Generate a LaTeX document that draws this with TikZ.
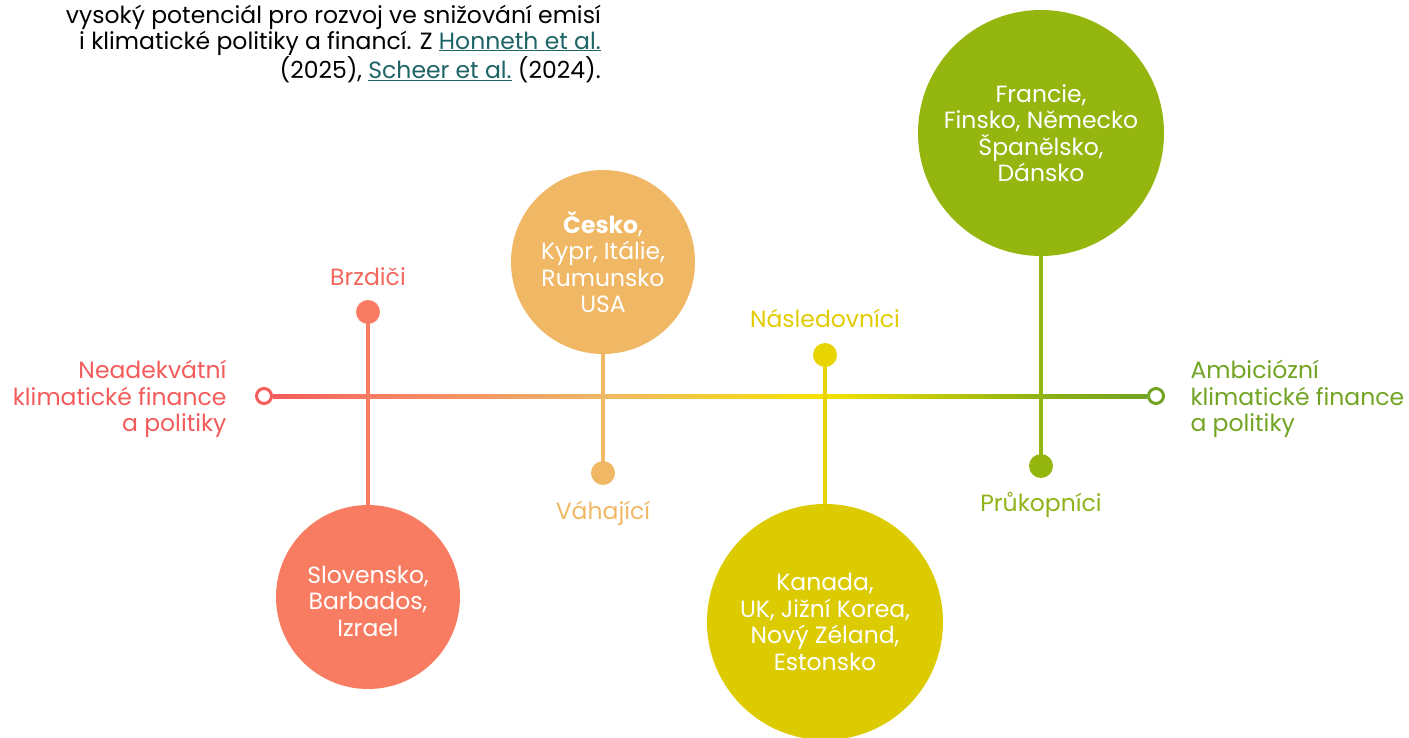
\documentclass[tikz,border=0pt]{standalone}
\usepackage{fontspec}
\setmainfont{Poppins}
\usetikzlibrary{calc}
\definecolor{cRed}{HTML}{F45B5B}
\definecolor{cBrz}{HTML}{F77C62}
\definecolor{cBrzL}{HTML}{F4675C}
\definecolor{cVah}{HTML}{F0B865}
\definecolor{cNas}{HTML}{DCCB00}
\definecolor{cNasD}{HTML}{E8D400}
\definecolor{cNasL}{HTML}{E2CB00}
\definecolor{cPru}{HTML}{95B50F}
\definecolor{cPruL}{HTML}{8FB318}
\definecolor{cGreen}{HTML}{72A323}
\definecolor{cYel}{HTML}{F7E200}
\definecolor{cLink}{HTML}{1E6466}
\pgfdeclarehorizontalshading{axisgrad}{100bp}{color(0bp)=(cRed); color(25bp)=(cRed); color(30.5bp)=(cBrz); color(44bp)=(cVah); color(56.5bp)=(cYel); color(68.5bp)=(cPru!85!cGreen); color(75bp)=(cGreen); color(100bp)=(cGreen)}
\newcommand{\lnk}[1]{\textcolor{cLink}{\underline{#1}}}
\tikzset{
  txt/.style={font=\fontsize{23.5}{26.5}\selectfont},
  bigc/.style={circle, inner sep=0pt, text=white, align=center, txt},
  dotn/.style={circle, inner sep=0pt, minimum size=24pt},
  ring/.style={circle, draw, line width=3pt, fill=white, inner sep=0pt, minimum size=15pt},
  stem/.style={line width=4pt},
}
\begin{document}
\begin{tikzpicture}[x=1pt,y=-1pt]
\useasboundingbox (0,0) rectangle (1409,738);
% header text
\node[anchor=north east, align=right, inner sep=0pt, font=\fontsize{23.5}{25.5}\selectfont] (hdr) at (601,5)
 {vysoký potenciál pro rozvoj ve snižování emisí\\i klimatické politiky a financí. Z \lnk{Honneth et al.}\\(2025), \lnk{Scheer et al.} (2024).};
% axis
\node[ring, draw=cRed] (lend) at (264,396) {};
\node[ring, draw=cGreen] (rend) at (1156,396) {};
\path[shading=axisgrad] ($(lend.east)+(0,-2)$) rectangle ($(rend.west)+(0,2)$);
\node[txt, text=cRed, align=right, anchor=east] (ltxt) at (230,399) {Neadekvátní\\klimatické finance\\a politiky};
\node[txt, text=cGreen, align=left, anchor=west] (rtxt) at (1187,399) {Ambiciózní\\klimatické finance\\a politiky};
% Brzdici
\node[txt, text=cBrzL] (bzl) at (368,277) {Brzdiči};
\node[dotn, fill=cBrz] (bzd) at (368,312) {};
\node[bigc, fill=cBrz, minimum size=184pt] (bzc) at (368,597) {};
\node[txt, text=white, align=center] (bzt) at (368,601) {Slovensko,\\Barbados,\\Izrael};
\draw[stem, cBrz] (bzd.center) -- (bzc);
% Vahajici
\node[bigc, fill=cVah, minimum size=184pt] (vac) at (603,262) {\textbf{Česko},\\Kypr, Itálie,\\Rumunsko\\USA};
\node[dotn, fill=cVah] (vad) at (603,473) {};
\node[txt, text=cVah] (val) at (603,513) {Váhající};
\draw[stem, cVah] (vac) -- (vad.center);
% Nasledovnici
\node[txt, text=cNasL] (nal) at (825,318) {Následovníci};
\node[dotn, fill=cNasD] (nad) at (825,355) {};
\node[bigc, fill=cNas, minimum size=236pt] (nac) at (825,622) {Kanada,\\UK, Jižní Korea,\\Nový Zéland,\\Estonsko};
\draw[stem, cNasD] (nad.center) -- (nac);
% Prukopnici
\node[bigc, fill=cPru, minimum size=246pt] (prc) at (1041,133) {Francie,\\Finsko, Německo\\Španělsko,\\Dánsko};
\node[dotn, fill=cPru] (prd) at (1041,466) {};
\node[txt, text=cPruL] (prl) at (1041,505) {Průkopníci};
\draw[stem, cPru] (prc) -- (prd.center);
\end{tikzpicture}
\end{document}
